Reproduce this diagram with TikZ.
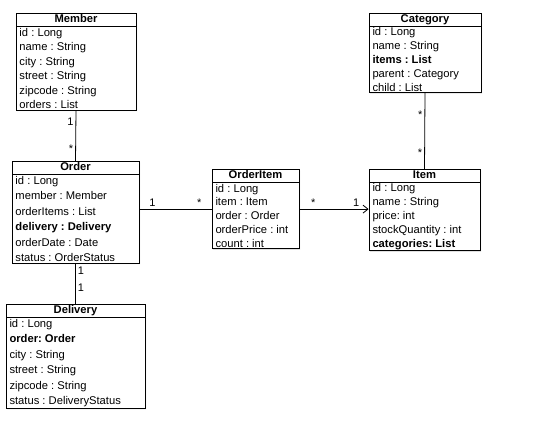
\documentclass[tikz,border=0pt]{standalone}
\usepackage{fontspec}
\setmainfont{Liberation Sans}
\usetikzlibrary{arrows.meta, shapes.multipart, shadows}
\frenchspacing

\begin{document}
\begin{tikzpicture}[x=1pt, y=-1pt,
        cls/.style={draw, thick, fill=white, rectangle split, rectangle split parts=2,
        rectangle split part align={center, left}, align=left, anchor=north,
        inner xsep=3.5pt, inner ysep=1pt, font=\fontsize{11.2}{#1}\selectfont,
        drop shadow={opacity=0.25, shadow xshift=1pt, shadow yshift=-1pt}},
        cls/.default=14,
        mult/.style={font=\fontsize{11}{12}\selectfont, inner sep=2pt},
        assoc/.style={draw, thick},
        nav/.style={-{Straight Barb[length=5pt, width=8pt]}, thick}
      ]
      \useasboundingbox (0,0) rectangle (546,435);
      \node[cls=14.5, minimum width=120] (member) at (76,13)
        {\textbf{Member}\vphantom{Oy}
         \nodepart{two} id : Long\\name : String\\city : String\\street : String\\zipcode : String\\orders : List};
      \node[cls=15.5, minimum width=127] (order) at (75.5,161)
        {\textbf{Order}\vphantom{Oy}
         \nodepart{two} id : Long\\member : Member\\orderItems : List\\\textbf{delivery : Delivery}\\orderDate : Date\\status : OrderStatus};
      \node[cls=15.5, minimum width=139] (delivery) at (75.5,304)
        {\textbf{Delivery}\vphantom{Oy}
         \nodepart{two} id : Long\\\textbf{order: Order}\\city : String\\street : String\\zipcode : String\\status : DeliveryStatus};
      \node[cls=13.8, minimum width=87] (orderitem) at (255.5,169)
        {\textbf{OrderItem}\vphantom{Oy}
         \nodepart{two} id : Long\\item : Item\\order : Order\\orderPrice : int\\count : int};
      \node[cls=13.8, minimum width=112] (category) at (425,13)
        {\textbf{Category}\vphantom{Oy}
         \nodepart{two} id : Long\\name : String\\\textbf{items : List}\\parent : Category\\child : List};
      \node[cls=13.8, minimum width=111] (item) at (424.5,169)
        {\textbf{Item}\vphantom{Oy}
         \nodepart{two} id : Long\\name : String\\price: int\\stockQuantity : int\\\textbf{categories: List}};

      \draw[assoc] (member.south) -- node[mult, pos=0.22, left] {1} node[mult, pos=0.76, left] {*} (order.north);
      \draw[assoc] (order.south) -- node[mult, pos=0.17, right] {1} node[mult, pos=0.6, right] {1} (delivery.north);
      \draw[assoc] (orderitem.west -| order.east) -- node[mult, pos=0.18, above] {1} node[mult, pos=0.83, above] {*} (orderitem.west);
      \draw[nav] (orderitem.east) -- node[mult, pos=0.2, above] {*} node[mult, pos=0.82, above] {1} (orderitem.east -| item.west);
      \draw[assoc] (category.south) -- node[mult, pos=0.28, left] {*} node[mult, pos=0.78, left] {*} (item.north);
    \end{tikzpicture}
\end{document}
